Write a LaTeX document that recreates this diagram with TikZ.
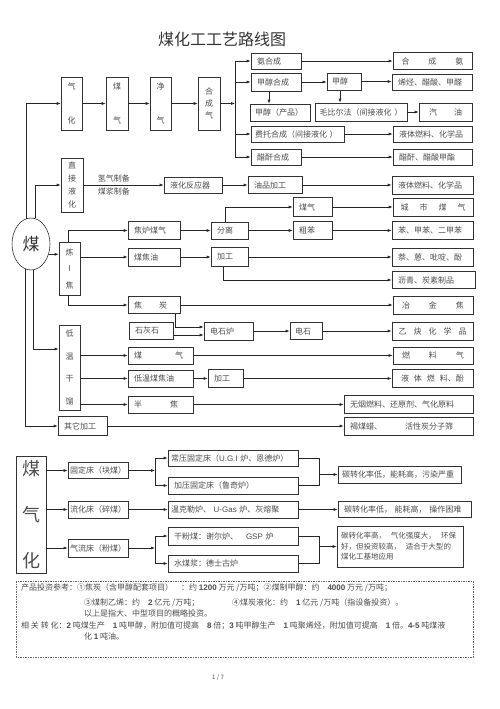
\documentclass[tikz,border=0pt]{standalone}
\usepackage{fontspec}
\setmainfont{Noto Sans CJK SC}
\newfontfamily\lat{Liberation Sans}
\usetikzlibrary{arrows.meta,shapes.geometric}

\tikzset{
  box/.style={draw=black!80, line width=0.6pt, inner xsep=6pt, inner ysep=0pt, align=left,
    text=black!70, font=\fontsize{8}{9}\selectfont},
  vbox/.style={box, inner xsep=0pt, align=center, font=\fontsize{8}{#1}\selectfont},
  arr/.style={line width=0.6pt, draw=black!85, -{Latex[length=4pt,width=3pt]}},
  ln/.style={line width=0.6pt, draw=black!85},
  lab/.style={inner sep=2.5pt, text=black!70, font=\fontsize{8}{9}\selectfont},
  note/.style={anchor=west, inner sep=0pt, text=black!70, font=\fontsize{8}{9}\selectfont}
}

\begin{document}
\begin{tikzpicture}[x=1pt,y=-1pt]
\useasboundingbox (0,0) rectangle (500,709);
\node[font=\fontsize{16}{18}\selectfont, text=black!80] (title) at (222,39) {煤化工工艺路线图};

% top row
\node[vbox=34,text width=21pt,minimum height=53pt] (qh) at (71.5,103.5) {气\\化};
\node[vbox=34,text width=22pt,minimum height=53pt] (mq) at (117,103.5) {煤\\气};
\node[vbox=34,text width=21pt,minimum height=53pt] (jq) at (160.5,103.5) {净\\气};
\node[vbox=12,text width=22pt,minimum height=53pt] (hcq) at (209,103.5) {合\\成\\气};
\coordinate (trk) at (235,60);

\node[box,text width=38pt,minimum height=16pt] (ahc) at (276,61) {氨合成};
\node[box,text width=67pt,minimum height=17pt,align=center] (hca) at (432.5,61) {合\hspace{19pt}成\hspace{19pt}氨};
\node[box,text width=38pt,minimum height=18pt] (jchc) at (276,82) {甲醇合成};
\node[box,text width=24pt,inner xsep=5pt,minimum height=17pt] (jc) at (344,81.5) {甲醇};
\node[box,text width=68pt,minimum height=16pt] (xt) at (432,82) {烯烃、醋酸、甲醛};
\node[box,text width=50pt,inner xsep=5pt,minimum height=17pt] (jccp) at (280,112.5) {甲醇（产品）};
\node[box,text width=88pt,inner xsep=2pt,minimum height=18pt,align=center] (mbef) at (361,112) {毛比尔法（间接液化 ）};
\node[box,text width=41pt,minimum height=18pt,align=center] (qy) at (445.5,112) {汽\hspace{17pt}油};
\node[box,text width=85pt,inner xsep=4pt,minimum height=16pt] (ftc) at (297.5,134) {费托合成（间接液化 ）};
\node[box,text width=67pt,minimum height=16pt] (yt1) at (432.5,134) {液体燃料、化学品};
\node[box,text width=38pt,minimum height=16pt] (csh) at (276,157) {醋酐合成};
\node[box,text width=67pt,minimum height=16pt] (csjz) at (432.5,157) {醋酐、醋酸甲酯};

\draw[arr] (qh.east) -- (mq.west);
\draw[arr] (mq.east) -- (jq.west);
\draw[arr] (jq.east) -- (hcq.west);
\draw[arr] (hcq.east) -- (hcq.east -| trk);
\draw[ln] (trk |- ahc.west) -- (trk |- csh.west);
\foreach \b in {ahc,jchc,ftc,csh} \draw[arr] (trk |- \b.west) -- (\b.west);
\draw[arr] (ahc.east) -- (ahc.east -| hca.west);
\draw[arr] (jchc.east) -- (jchc.east -| jc.west);
\draw[arr] (jc.east) -- (jc.east -| xt.west);
\draw[arr] ([xshift=-7pt]jchc.south) -- ([xshift=-7pt]jchc.south |- jccp.north);
\draw[arr] ([xshift=-4pt]jc.south) -- ([xshift=-4pt]jc.south |- mbef.north);
\draw[arr] (mbef.east) -- (mbef.east -| qy.west);
\draw[arr] (ftc.east) -- (ftc.east -| yt1.west);
\draw[arr] (csh.east) -- (csh.east -| csjz.west);

% coal and its branches
\node[draw=black!80, line width=0.6pt, ellipse, minimum width=38pt, minimum height=52pt, inner sep=0pt,
  text=black!80, font=\fontsize{17}{18}\selectfont] (mei) at (31,244) {煤};
\node[vbox=13,text width=22pt,minimum height=54pt] (zjyh) at (72,185) {直\\接\\液\\化};
\node[box,text width=46pt,minimum height=16pt] (yhfy) at (193,185) {液化反应器};
\node[box,text width=42pt,minimum height=17pt] (ypjg) at (275,185) {油品加工};
\node[box,text width=69pt,minimum height=18pt] (yt2) at (432.5,185) {液体燃料、化学品};

\node[vbox=16.5,text width=21pt,minimum height=53pt] (ljd) at (69.5,268.5) {炼\\I\\焦};
\node[box,text width=40pt,minimum height=18pt] (jlmq) at (154,230.5) {焦炉煤气};
\node[box,text width=25pt,minimum height=17pt] (fl) at (229.5,230.5) {分离};
\node[box,text width=27pt,minimum height=19pt] (mq2) at (312.5,207) {煤气};
\node[box,text width=68pt,minimum height=18pt,align=center] (csmq) at (433,207) {城\hspace{11pt}市\hspace{11pt}煤\hspace{11pt}气};
\node[box,text width=27pt,minimum height=18pt] (cb) at (312.5,230.5) {粗苯};
\node[box,text width=69pt,minimum height=18pt] (bjb) at (432.5,230.5) {苯、甲苯、二甲苯};
\node[box,text width=40pt,minimum height=18pt] (mjy) at (154,257) {煤焦油};
\node[box,text width=25pt,minimum height=19pt] (jg1) at (229.5,257) {加工};
\node[box,text width=69pt,minimum height=18pt] (nei) at (432.5,257) {萘、蒽、吡啶、酚};
\node[box,text width=71pt,minimum height=17pt] (lq) at (433.5,280) {沥青、炭素制品};
\node[box,text width=40pt,minimum height=17pt] (jt) at (154,305) {焦\hspace{17pt}炭};
\node[box,text width=68pt,minimum height=18pt,align=center] (yjj) at (433,305) {冶\hspace{19pt}金\hspace{19pt}焦};
\node[box,text width=32pt,minimum height=17pt] (shl) at (151,330.5) {石灰石};
\node[box,text width=37pt,minimum height=18pt] (dsl) at (228.5,331) {电石炉};
\node[box,text width=22pt,inner xsep=5pt,minimum height=17pt] (ds) at (306,331) {电石};
\node[box,text width=69pt,minimum height=18pt,align=center] (yqhx) at (432.5,331) {乙\hspace{7pt}炔\hspace{7pt}化\hspace{7pt}学\hspace{7pt}品};

\node[vbox=22.5,text width=21pt,minimum height=85pt] (dwgl) at (69.5,367.5) {低\\温\\干\\馏};
\node[box,text width=53pt,minimum height=17pt] (mq3) at (160.5,355.5) {煤\hspace{33pt}气};
\node[box,text width=68pt,minimum height=17pt,align=center] (rlq) at (433,355.5) {燃\hspace{19pt}料\hspace{19pt}气};
\node[box,text width=53pt,minimum height=17pt] (dwmjy) at (160.5,378.5) {低温煤焦油};
\node[box,text width=23pt,minimum height=18pt] (jg2) at (225.5,378.5) {加工};
\node[box,text width=69pt,minimum height=18pt,align=center] (ytrlf) at (432.5,378.5) {液\hspace{5pt}体\hspace{5pt}燃\hspace{5pt}料、酚};
\node[box,text width=53pt,minimum height=17pt] (bj) at (160.5,404.5) {半\hspace{28pt}焦};
\node[box,text width=117pt,minimum height=18pt] (wyrl) at (408.5,404.5) {无烟燃料、还原剂、气化原料};
\node[box,text width=37pt,minimum height=19pt] (qtjg) at (82.5,426) {其它加工};
\node[box,text width=117pt,minimum height=18pt] (hmd) at (408.5,426) {褐煤蜡、\hspace{23pt}活性炭分子筛};

\draw[arr] (mei.101) |- (qh.west);
\draw[arr] (mei.81) |- (zjyh.west);
\draw[arr] (mei.-30) -- (mei.-30 -| ljd.west);
\draw[arr] (mei.-86) |- ([yshift=18.5pt]dwgl.west);
\draw[arr] (mei.-102) |- (qtjg.west);

\draw[arr] (zjyh.east) -- (yhfy.west) node[lab,above,pos=.38] (qzb) {氢气制备} node[lab,below,pos=.38] (mjb) {煤浆制备};
\draw[arr] (yhfy.east) -- (ypjg.west);
\draw[arr] (ypjg.east) -- (yt2.west);

\draw[arr] ([xshift=-1.5pt]ljd.north) |- (jlmq.west);
\draw[arr] (ljd.east |- mjy.west) -- (mjy.west);
\draw[arr] ([xshift=-1.5pt]ljd.south) |- (jt.west);
\draw[arr] (jlmq.east) -- (fl.west);
\draw[arr] ([xshift=-4.5pt]fl.north) |- (mq2.west);
\draw[arr] (fl.east) -- (cb.west);
\draw[arr] (mq2.east) -- (mq2.east -| csmq.west);
\draw[arr] (cb.east) -- (cb.east -| bjb.west);
\draw[arr] (mjy.east) -- (mjy.east -| jg1.west);
\draw[arr] (jg1.east) -- (jg1.east -| nei.west);
\draw[arr] ([xshift=-6.5pt]jg1.south) |- (lq.west);
\draw[arr] (jt.east) -- (jt.east -| yjj.west);
\draw[arr] ([xshift=21pt]jt.south) |- ([yshift=4pt]dsl.west);
\draw[arr] ([yshift=-4pt]dsl.west -| shl.east) -- ([yshift=-4pt]dsl.west);
\draw[arr] (dsl.east) -- (dsl.east -| ds.west);
\draw[arr] (ds.east) -- (ds.east -| yqhx.west);

\foreach \b in {mq3,dwmjy,bj} \draw[arr] (dwgl.east |- \b.west) -- (\b.west);
\draw[arr] (mq3.east) -- (mq3.east -| rlq.west);
\draw[arr] (dwmjy.east) -- (dwmjy.east -| jg2.west);
\draw[arr] (jg2.east) -- (jg2.east -| ytrlf.west);
\draw[arr] (bj.east) -- (bj.east -| wyrl.west);
\draw[arr] (qtjg.east) -- (qtjg.east -| hmd.west);

% gasification
\node[vbox=46,text width=30pt,minimum height=117pt,font=\fontsize{18}{46}\selectfont] (mqh) at (31,514.5) {煤\\气\\化};
\node[box,text width=58pt,inner xsep=1pt,minimum height=16pt,align=center] (gdc) at (98,470.5) {固定床（块煤）};
\node[box,text width=58pt,inner xsep=1pt,minimum height=17pt,align=center] (lhc) at (98,509.5) {流化床（碎煤）};
\node[box,text width=58pt,inner xsep=1pt,minimum height=18pt,align=center] (qlc) at (98,548) {气流床（粉煤）};
\node[box,text width=124pt,inner xsep=3pt,minimum height=16pt] (cygd) at (233,458) {常压固定床（{\lat U.G.I} 炉、恩德炉）};
\node[box,text width=118pt,minimum height=17pt] (jygd) at (233,485.5) {加压固定床（鲁奇炉）};
\node[box,text width=124pt,inner xsep=3pt,minimum height=17pt] (wkl) at (233,509.5) {温克勒炉、 {\lat U-Gas} 炉、灰熔聚};
\node[box,text width=118pt,minimum height=18pt] (gfm) at (233,536) {干粉煤：谢尔炉、\hspace{8pt}{\lat GSP} 炉};
\node[box,text width=118pt,minimum height=17pt] (smj) at (233,563.5) {水煤浆：德士古炉};
\node[box,text width=115pt,inner xsep=4pt,minimum height=17pt] (r1) at (399.5,474.5) {碳转化率低，能耗高，污染严重};
\node[box,text width=121pt,minimum height=16pt] (r2) at (404.5,509.5) {碳转化率低，\ 能耗高，\ 操作困难};
\node[box,text width=118pt,inner xsep=4pt,minimum height=41pt,font=\fontsize{7.5}{10.5}\selectfont] (r3) at (400,546.5)
  {碳转化率高，\hspace{5pt}气化强度大，\hspace{5pt}环保\\好，但投资较高，\hspace{5pt}适合于大型的\\煤化工基地应用};
\coordinate (jl) at (155,0);
\coordinate (jr) at (319,0);

\foreach \b in {gdc,lhc,qlc} \draw[arr] (mqh.east |- \b.west) -- (\b.west);
\draw[arr] (gdc.east) -- (gdc.east -| jl);
\draw[ln] (jl |- cygd.west) -- (jl |- jygd.west);
\draw[arr] (jl |- cygd.west) -- (cygd.west);
\draw[arr] (jl |- jygd.west) -- (jygd.west);
\draw[ln] (cygd.east) -- (cygd.east -| jr) -- (jygd.east -| jr) -- (jygd.east);
\draw[arr] (jr |- r1.west) -- (r1.west);
\draw[arr] (lhc.east) -- (wkl.west);
\draw[arr] (wkl.east) -- (r2.west);
\draw[arr] (qlc.east) -- (qlc.east -| jl);
\draw[ln] (jl |- gfm.west) -- (jl |- smj.west);
\draw[arr] (jl |- gfm.west) -- (gfm.west);
\draw[arr] (jl |- smj.west) -- (smj.west);
\draw[ln] (gfm.east) -- (gfm.east -| jr) -- (smj.east -| jr) -- (smj.east);
\draw[arr] (jr |- r3.west) -- (r3.west);

% notes
\draw[black!60, line width=0.5pt, dash pattern=on 1.5pt off 1pt] (16,581) rectangle (473,657);
\node[note] (n1) at (21,588) {产品投资参考：①焦炭（含甲醇配套项目）\quad ：约 {\lat\bfseries 1200} 万元 /万吨；②煤制甲醇：约\quad {\lat\bfseries 4000} 万元 /万吨；};
\node[note] (n2) at (84,603) {③煤制乙烯：约\quad {\lat\bfseries 2} 亿元 /万吨；};
\node[note] (n3) at (232,603) {④煤炭液化：约\quad {\lat\bfseries 1} 亿元 /万吨（指设备投资）。};
\node[note] (n4) at (84,613) {以上是指大、中型项目的概略投资。};
\node[note] (n5) at (21,626) {相\ 关\ 转\ 化：{\lat\bfseries 2} 吨煤生产\quad {\lat\bfseries 1} 吨甲醇，附加值可提高\quad {\lat\bfseries 8} 倍；{\lat\bfseries 3} 吨甲醇生产\quad {\lat\bfseries 1} 吨聚烯烃，附加值可提高\quad {\lat\bfseries 1} 倍。{\lat\bfseries 4-5} 吨煤液};
\node[note] (n6) at (84,636) {化 {\lat\bfseries 1} 吨油。};
\node[text=black!70, font=\fontsize{6}{7}\selectfont] (pg) at (218,678) {1 / 7};
\end{tikzpicture}
\end{document}
